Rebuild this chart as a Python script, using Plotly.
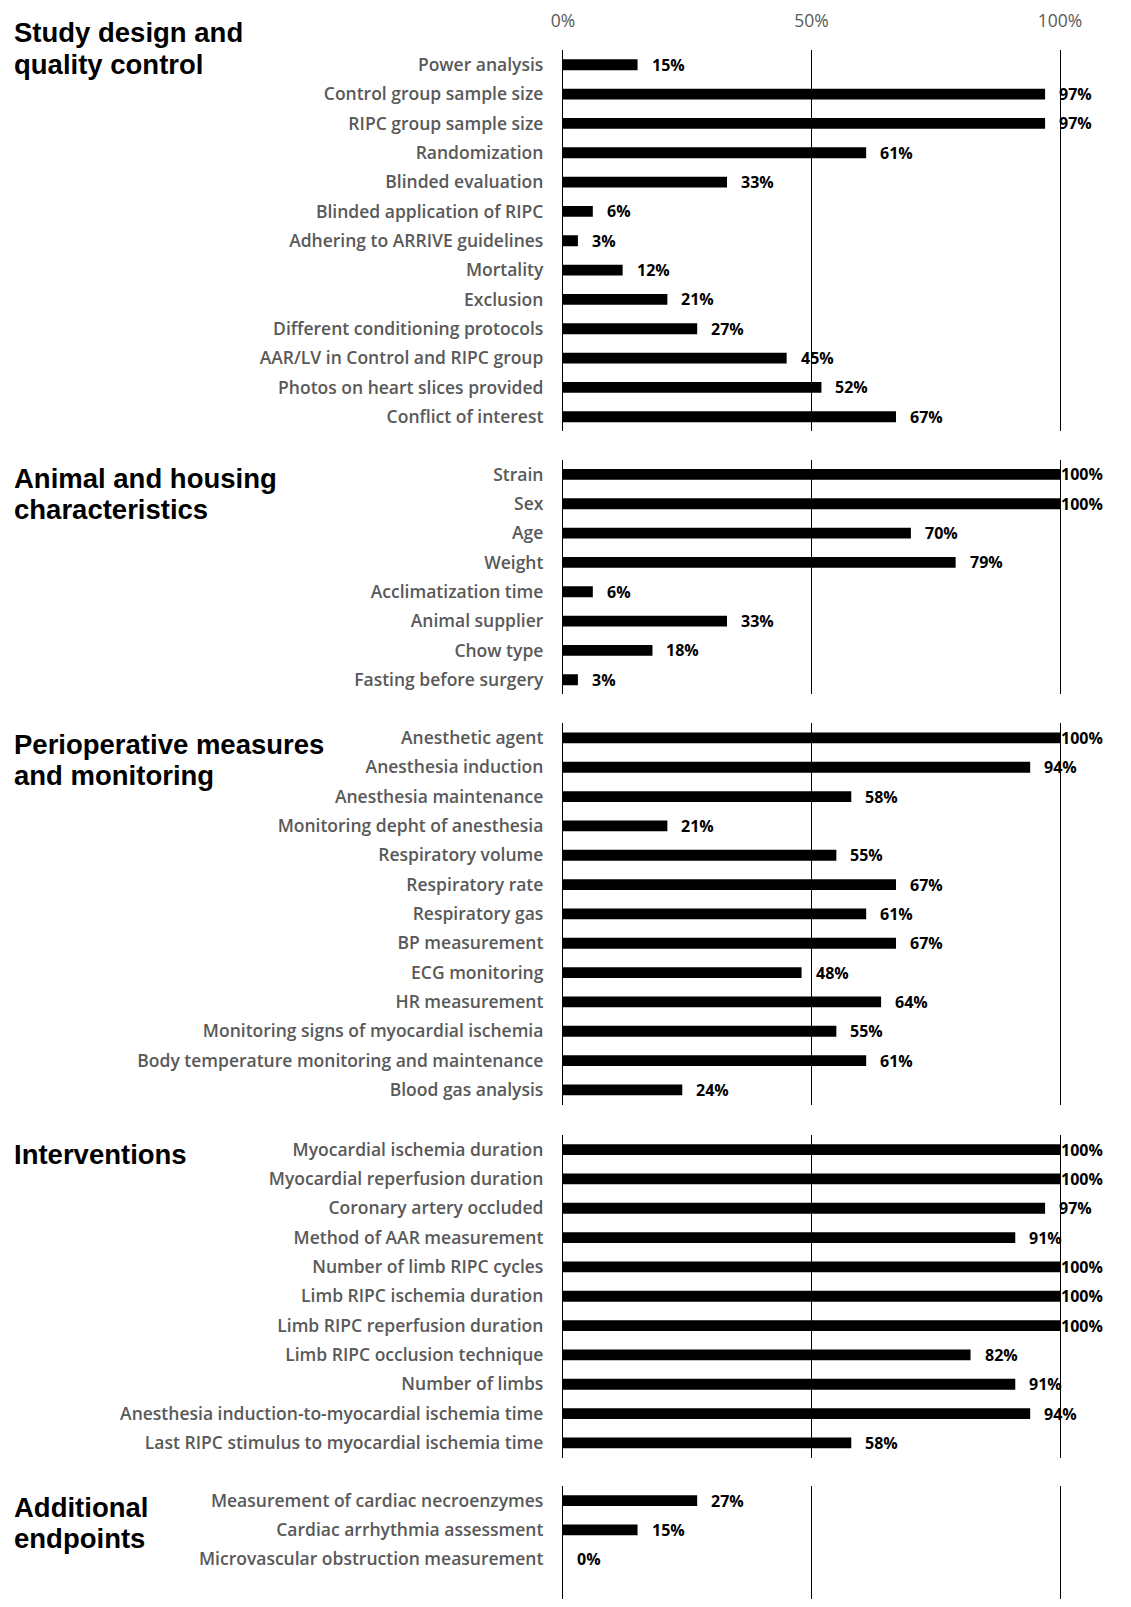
import plotly.graph_objects as go

# ---------------- data ----------------
section_titles = [
    ["Study design and", "quality control"],
    ["Animal and housing", "characteristics"],
    ["Perioperative measures", "and monitoring"],
    ["Interventions"],
    ["Additional", "endpoints"],
]

study_labels = [
    "Power analysis", "Control group sample size", "RIPC group sample size",
    "Randomization", "Blinded evaluation", "Blinded application of RIPC",
    "Adhering to ARRIVE guidelines", "Mortality", "Exclusion",
    "Different conditioning protocols", "AAR/LV in Control and RIPC group",
    "Photos on heart slices provided", "Conflict of interest",
]
study_values = [15, 97, 97, 61, 33, 6, 3, 12, 21, 27, 45, 52, 67]

animal_labels = [
    "Strain", "Sex", "Age", "Weight", "Acclimatization time",
    "Animal supplier", "Chow type", "Fasting before surgery",
]
animal_values = [100, 100, 70, 79, 6, 33, 18, 3]

periop_labels = [
    "Anesthetic agent", "Anesthesia induction", "Anesthesia maintenance",
    "Monitoring depht of anesthesia", "Respiratory volume", "Respiratory rate",
    "Respiratory gas", "BP measurement", "ECG monitoring", "HR measurement",
    "Monitoring signs of myocardial ischemia",
    "Body temperature monitoring and maintenance", "Blood gas analysis",
]
periop_values = [100, 94, 58, 21, 55, 67, 61, 67, 48, 64, 55, 61, 24]

interv_labels = [
    "Myocardial ischemia duration", "Myocardial reperfusion duration",
    "Coronary artery occluded", "Method of AAR measurement",
    "Number of limb RIPC cycles", "Limb RIPC ischemia duration",
    "Limb RIPC reperfusion duration", "Limb RIPC occlusion technique",
    "Number of limbs", "Anesthesia induction-to-myocardial ischemia time",
    "Last RIPC stimulus to myocardial ischemia time",
]
interv_values = [100, 100, 97, 91, 100, 100, 100, 82, 91, 94, 58]

endpoint_labels = [
    "Measurement of cardiac necroenzymes", "Cardiac arrhythmia assessment",
    "Microvascular obstruction measurement",
]
endpoint_values = [27, 15, 0]

x_tick_values = [0, 50, 100]
x_tick_labels = ["0%", "50%", "100%"]

# ---------------- layout geometry (page pixels) ----------------
PAGE_W, PAGE_H = 1131, 1607
OFF = 8                       # default body margin of the html page
W, H = PAGE_W - 2 * OFF, PAGE_H - 2 * OFF
X0, X100 = 563, 1060          # page x of 0% and 100%
ML, MR = X0 - OFF, W - (X100 - OFF)
PITCH = 29.5
section_tops = [41.25, 453.25, 718.25, 1132.25, 1485.25]
title_line_y = [[24, 56], [472, 503], [740, 771], [1152], [1507, 1538]]
TITLE_X = 12

sections = [
    (study_labels, study_values),
    (animal_labels, animal_values),
    (periop_labels, periop_values),
    (interv_labels, interv_values),
    (endpoint_labels, endpoint_values),
]


def py2paper(py):
    return 1 - (py - OFF) / H


fig = go.Figure()
LABEL_FONT = dict(family="Open Sans", size=17.5, color="#595959", weight=600)
VALUE_FONT = dict(family="Open Sans", size=16, color="black", weight=700)
TITLE_FONT = dict(family="Liberation Sans", size=27.5, color="black", weight=700)

annotations = []
for i, (labels, values) in enumerate(sections):
    k = "" if i == 0 else str(i + 1)
    n = len(labels)
    top = section_tops[i]
    if i == len(sections) - 1:
        bottom = PAGE_H - OFF
    else:
        bottom = top + n * PITCH
    n_rows_span = (bottom - top) / PITCH
    fig.add_trace(go.Bar(
        x=values, y=labels, orientation="h",
        marker=dict(color="black", line=dict(width=0)),
        width=0.37, xaxis="x" + k, yaxis="y" + k,
        showlegend=False, hoverinfo="x+y",
    ))
    for lab, v in zip(labels, values):
        annotations.append(dict(
            x=v, y=lab, xref="x" + k, yref="y" + k,
            text=f"{v}%", showarrow=False, xanchor="left", yanchor="middle",
            xshift=12 if v < 100 else -1, font=VALUE_FONT,
        ))
    fig.layout["xaxis" + k] = dict(
        domain=[0, 1], anchor="y" + k, range=[0, 100],
        tickvals=x_tick_values, ticktext=x_tick_labels,
        showticklabels=(i == 0), side="top",
        tickfont=dict(family="Open Sans", size=17.5, color="#595959"),
        ticklabelstandoff=19,
        showgrid=True, gridcolor="black", gridwidth=1.2,
        zeroline=False, showline=False, ticks="",
        fixedrange=True,
    )
    fig.layout["yaxis" + k] = dict(
        domain=[py2paper(bottom), py2paper(top)], anchor="x" + k,
        type="category", categoryarray=labels,
        range=[-0.5 + n_rows_span, -0.5],
        showgrid=False, zeroline=False,
        showline=True, mirror=True, linecolor="black", linewidth=1.2,
        ticks="",
        tickfont=LABEL_FONT, ticklabelstandoff=15,
        fixedrange=True,
    )
    for line_text, ly in zip(section_titles[i], title_line_y[i]):
        annotations.append(dict(
            x=(TITLE_X - X0) / (X100 - X0), y=py2paper(ly),
            xref="paper", yref="paper", xanchor="left", yanchor="middle",
            align="left", showarrow=False, text=line_text, font=TITLE_FONT,
        ))

fig.update_layout(
    width=W, height=H,
    margin=dict(l=ML, r=MR, t=0, b=0, pad=0),
    paper_bgcolor="white", plot_bgcolor="white",
    bargap=0.6, annotations=annotations,
)

fig.write_html("out.html", config={"displayModeBar": False})
